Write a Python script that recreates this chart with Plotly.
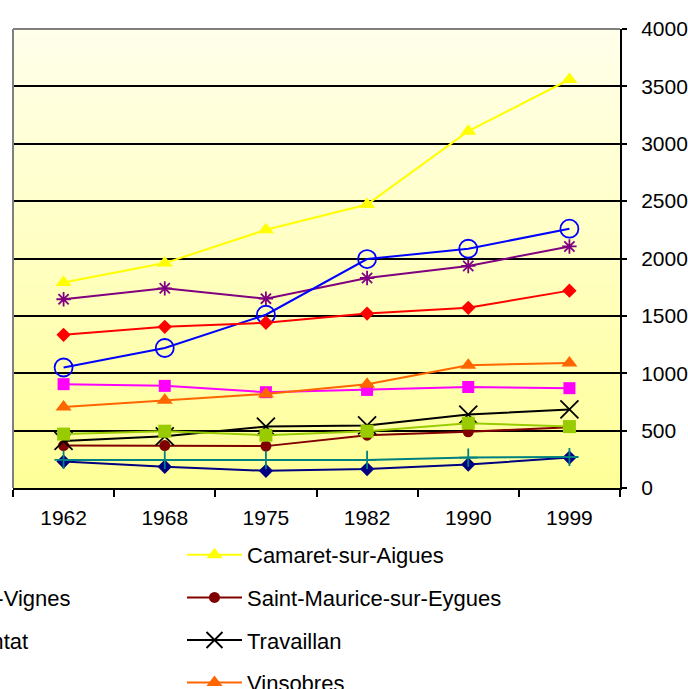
import plotly.graph_objects as go

# Census years (category axis)
years = ["1962", "1968", "1975", "1982", "1990", "1999"]

# Population per commune
buisson = [230, 185, 150, 165, 205, 265]
cairanne = [905, 890, 835, 855, 880, 870]
camaret = [1790, 1960, 2250, 2470, 3110, 3560]
sainte_cecile = [1645, 1740, 1650, 1830, 1935, 2105]
saint_maurice = [370, 370, 365, 460, 490, 530]
saint_roman = [245, 245, 245, 245, 265, 270]
serignan = [1050, 1220, 1510, 1995, 2085, 2260]
travaillan = [410, 450, 535, 545, 640, 685]
tulette = [1335, 1405, 1440, 1520, 1570, 1720]
villedieu = [470, 495, 460, 495, 565, 535]
vinsobres = [705, 765, 820, 905, 1070, 1090]

y_tick_values = [0, 500, 1000, 1500, 2000, 2500, 3000, 3500, 4000]

FONT = "Liberation Sans, Arial, sans-serif"

# name, values, colour, symbol, marker size, open symbol?, legend column
series = [
    ("Buisson", buisson, "#000080", "diamond", 11, False, "legend"),
    ("Cairanne", cairanne, "#FF00FF", "square", 12, False, "legend2"),
    ("Camaret-sur-Aigues", camaret, "#FFFF00", "triangle-up", 14, False, "legend3"),
    ("Sainte-Cécile-les-Vignes", sainte_cecile, "#800080", "asterisk-open", 12, True, "legend2"),
    ("Saint-Maurice-sur-Eygues", saint_maurice, "#800000", "circle", 11, False, "legend3"),
    ("Saint-Roman-de-Malegarde", saint_roman, "#008080", "cross-thin-open", 13, True, "legend"),
    ("Sérignan-du-Comtat", serignan, "#0000FF", "circle-open", 18, True, "legend2"),
    ("Travaillan", travaillan, "#000000", "x-thin-open", 18, True, "legend3"),
    ("Tulette", tulette, "#FF0000", "diamond", 11, False, "legend"),
    ("Villedieu", villedieu, "#99CC00", "square", 13, False, "legend2"),
    ("Vinsobres", vinsobres, "#FF6600", "triangle-up", 14, False, "legend3"),
]

fig = go.Figure()
for name, vals, color, symbol, size, is_open, leg in series:
    marker = dict(symbol=symbol, size=size, color=color)
    if is_open:
        marker["line"] = dict(color=color, width=1.8)
    else:
        marker["line"] = dict(width=0)
    fig.add_trace(go.Scatter(
        x=years, y=vals, name=name, mode="lines+markers",
        line=dict(color=color, width=2),
        marker=marker, legend=leg, legendgroup=name,
        cliponaxis=False,
    ))

# Plot area: vertical gradient from pale cream to yellow
shapes = []
n_bands = 54
top_rgb = (255, 255, 235)
bot_rgb = (255, 255, 152)
for i in range(n_bands):
    t = (i + 0.5) / n_bands
    c = tuple(round(top_rgb[k] + (bot_rgb[k] - top_rgb[k]) * t) for k in range(3))
    shapes.append(dict(
        type="rect", xref="paper", yref="paper",
        x0=0, x1=1, y0=1 - (i + 1) / n_bands, y1=1 - i / n_bands + 0.001,
        fillcolor="rgb(%d,%d,%d)" % c, line=dict(width=0), layer="below",
    ))
# Grey frame on the top and left edges of the plot area
shapes.append(dict(type="line", xref="paper", yref="paper", x0=0, x1=1, y0=1, y1=1,
                   line=dict(color="#808080", width=2), layer="above"))
shapes.append(dict(type="line", xref="paper", yref="paper", x0=0, x1=0, y0=0, y1=1,
                   line=dict(color="#808080", width=2), layer="above"))

legend_common = dict(
    orientation="v", xanchor="left", yanchor="top", y=-0.1002,
    bgcolor="rgba(0,0,0,0)", borderwidth=0,
    font=dict(family=FONT, size=22, color="black"),
    itemwidth=55, tracegroupgap=11, traceorder="grouped",
)

fig.update_layout(
    width=688, height=689,
    margin=dict(l=13, r=68, t=29, b=201, autoexpand=False),
    paper_bgcolor="white", plot_bgcolor="rgba(0,0,0,0)",
    font=dict(family=FONT, size=21, color="black"),
    showlegend=True,
    shapes=shapes,
    legend=dict(legend_common, x=-1.1054),
    legend2=dict(legend_common, x=-0.4085),
    legend3=dict(legend_common, x=0.2784),
    annotations=[dict(
        text="<b>Evolution de la population (hab.)</b>",
        xref="paper", yref="paper", x=(411 - 13) / 607, y=1.0595,
        xanchor="right", yanchor="bottom", showarrow=False,
        font=dict(family=FONT, size=22, color="black"),
    )],
)

fig.update_xaxes(
    type="category", range=[-0.5, 5.5],
    showline=True, linecolor="black", linewidth=2,
    ticks="outside", tickson="boundaries", ticklen=7, tickwidth=1.5, tickcolor="black",
    showgrid=False, zeroline=False,
    tickfont=dict(family=FONT, size=21, color="black"),
    ticklabelstandoff=10, fixedrange=True,
)
fig.update_yaxes(
    side="right", range=[0, 4000], tickvals=y_tick_values,
    showgrid=True, gridcolor="black", gridwidth=1.6,
    showline=True, linecolor="black", linewidth=2,
    ticks="outside", ticklen=5, tickwidth=1.5, tickcolor="black",
    zeroline=False,
    tickfont=dict(family=FONT, size=21, color="black"),
    ticklabelstandoff=10, fixedrange=True,
)

fig.write_html("out.html")
